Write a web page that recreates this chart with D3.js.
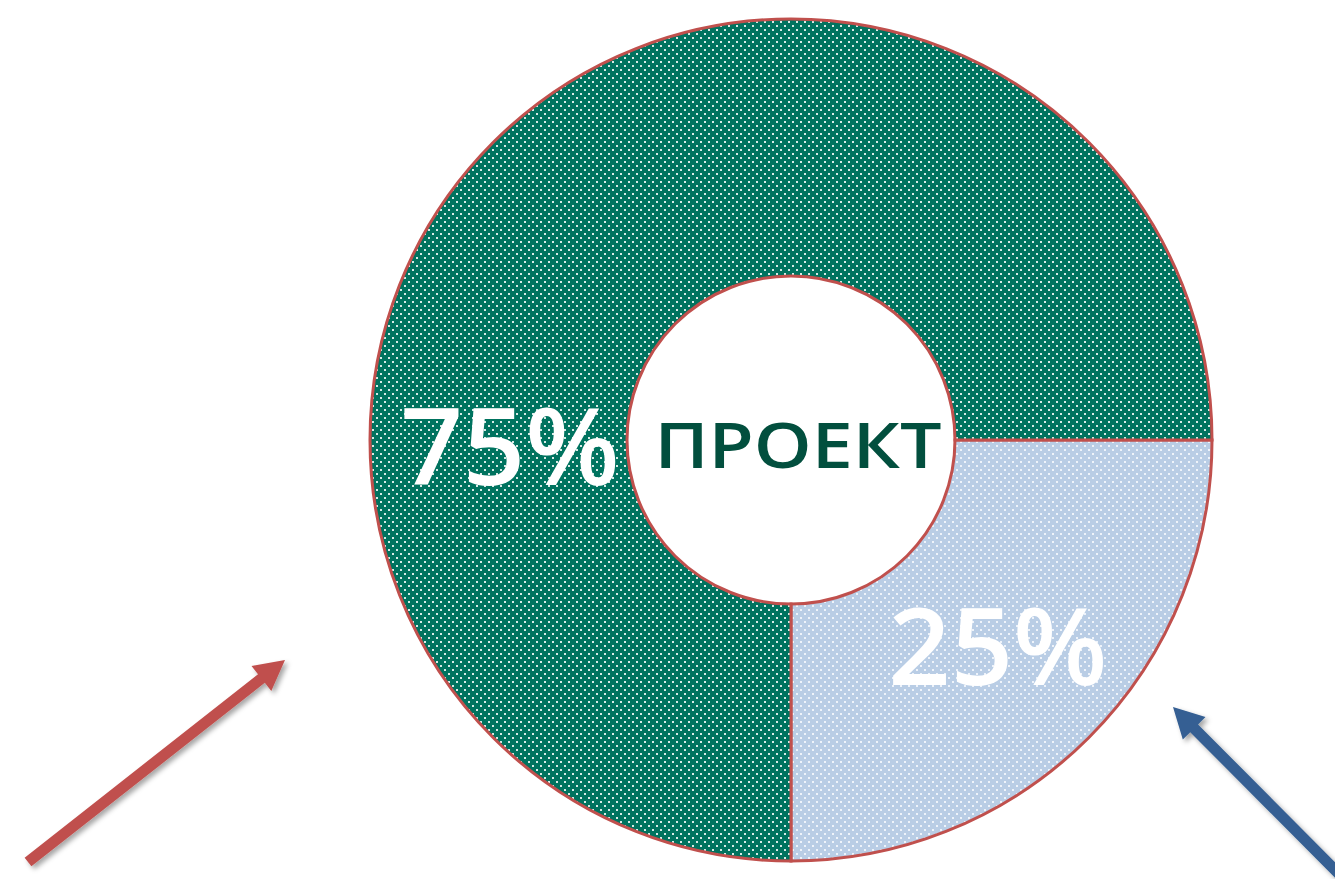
<!DOCTYPE html>
<html>
<head>
<meta charset="utf-8">
<script src="https://cdn.jsdelivr.net/npm/d3@7"></script>
<style>
  body { margin: 0; background: #fff; }
  svg { display: block; }
</style>
</head>
<body>
<div id="container"></div>
<script>
const categories = ["Проект", "Другое"];
const values = [75, 25];
const labels = ["75%", "25%"];
const centerLabel = "ПРОЕКТ";

const width = 1335, height = 879;
const cx = 791, cy = 440;
const outerR = 421, innerR = 164;

const svg = d3.select("#container").append("svg")
  .attr("width", width).attr("height", height);

const defs = svg.append("defs");
const makeDots = (id, bg, dot) => {
  const p = defs.append("pattern").attr("id", id)
    .attr("patternUnits", "userSpaceOnUse").attr("width", 8).attr("height", 8);
  p.append("rect").attr("width", 8).attr("height", 8).attr("fill", bg);
  p.append("rect").attr("x", 1).attr("y", 1).attr("width", 2).attr("height", 2).attr("fill", dot);
  p.append("rect").attr("x", 5).attr("y", 5).attr("width", 2).attr("height", 2).attr("fill", dot);
};
makeDots("dotGreen", "#00735f", "#d9ebe7");
makeDots("dotBlue", "#b9cde5", "#eef3fa");

defs.append("filter").attr("id", "shadow")
  .attr("x", "-20%").attr("y", "-20%").attr("width", "140%").attr("height", "140%")
  .append("feDropShadow").attr("dx", 3).attr("dy", 3)
  .attr("stdDeviation", 2.5).attr("flood-color", "#000").attr("flood-opacity", 0.35);

const color = d3.scaleOrdinal().domain(categories).range(["url(#dotGreen)", "url(#dotBlue)"]);

const pie = d3.pie().sort(null)
  .startAngle(Math.PI / 2).endAngle(Math.PI / 2 + 2 * Math.PI)
  .value((d) => d.value);
const data = categories.map((c, i) => ({ cat: c, value: values[i], label: labels[i] }));
// small slice first so it starts at 3 o'clock and runs clockwise
const arcs = pie([data[1], data[0]]);

const arc = d3.arc().innerRadius(innerR).outerRadius(outerR);
const g = svg.append("g").attr("transform", `translate(${cx},${cy})`);

g.selectAll(".slice").data(arcs).enter().append("path")
  .attr("class", "slice")
  .attr("d", arc)
  .attr("fill", (d) => color(d.data.cat))
  .attr("stroke", "#c0504d")
  .attr("stroke-width", 3);

g.selectAll(".lbl").data(arcs).enter().append("text")
  .attr("class", "lbl")
  .attr("transform", (d) => {
    if (d.data.cat === "Проект") {
      // big slice: label sits on the left side of the ring
      const a = 1.5 * Math.PI, r = 281;
      return `translate(${r * Math.sin(a)},${-r * Math.cos(a) + 7}) scale(1.03,1)`;
    }
    const c = arc.centroid(d);
    return `translate(${c[0]},${c[1]}) scale(1.03,1)`;
  })
  .attr("text-anchor", "middle")
  .attr("dy", "0.36em")
  .attr("font-family", "'Open Sans', sans-serif")
  .attr("font-weight", 600)
  .attr("font-size", 106)
  .attr("fill", "#fff")
  .text((d) => d.data.label);

g.append("text")
  .attr("transform", "translate(7,5) scale(1.15,1)")
  .attr("text-anchor", "middle")
  .attr("dy", "0.36em")
  .attr("font-family", "'Open Sans', sans-serif")
  .attr("font-weight", 600)
  .attr("font-size", 64)
  .attr("fill", "#024f3e")
  .text(centerLabel);

// arrows, placed relative to the ring centre
const arrows = [
  { from: [-763, 422], to: [-506, 220], color: "#c0504d" },
  { from: [556, 442], to: [382, 267], color: "#355f93" },
];
const arrowPath = (a) => {
  const [x0, y0] = a.from, [x1, y1] = a.to;
  const dx = x1 - x0, dy = y1 - y0, len = Math.hypot(dx, dy);
  const ux = dx / len, uy = dy / len, nx = -uy, ny = ux;
  const hw = 5.5, headL = 30, headW = 16;
  const bx = x1 - ux * headL, by = y1 - uy * headL;
  const pts = [
    [x0 + nx * hw, y0 + ny * hw],
    [bx + nx * hw, by + ny * hw],
    [bx + nx * headW, by + ny * headW],
    [x1, y1],
    [bx - nx * headW, by - ny * headW],
    [bx - nx * hw, by - ny * hw],
    [x0 - nx * hw, y0 - ny * hw],
  ];
  return d3.line()(pts) + "Z";
};
g.selectAll(".arrow").data(arrows).enter().append("path")
  .attr("class", "arrow")
  .attr("d", arrowPath)
  .attr("fill", (d) => d.color)
  .attr("filter", "url(#shadow)");
</script>
</body>
</html>
